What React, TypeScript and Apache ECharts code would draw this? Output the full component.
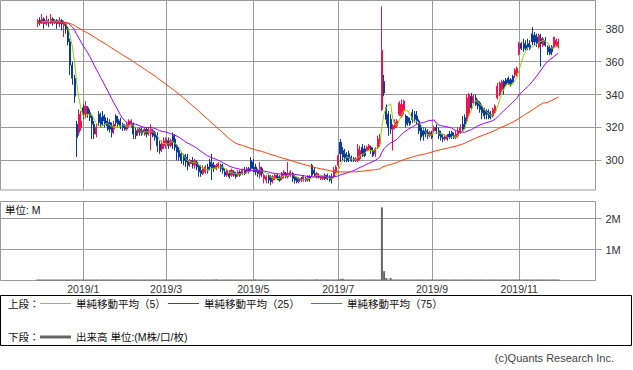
import React, { useEffect, useRef } from "react";
import * as echarts from "echarts";

// ---- data ----
// closes before the visible window (needed for the moving averages at the left edge)
const prehistoryCloses = [
  382, 384, 385, 383, 381, 383, 386, 384, 382, 383,
  385, 384, 382, 381, 383, 385, 386, 384, 383, 382,
  384, 385, 383, 381, 382, 384, 386, 385, 383, 382,
  381, 383, 384, 386, 385, 383, 382, 384, 385, 383,
  381, 382, 384, 385, 386, 384, 383, 382, 383, 385,
  384, 382, 381, 383, 385, 384, 383, 382, 384, 386,
  385, 383, 382, 383, 384, 385, 383, 382, 384, 385,
  384, 383, 382, 384,
];

const opens = [
  383, 385, 384, 386, 383, 385, 384, 386, 384, 385,
  383, 385, 382, 383, 380, 372, 358, 350, 322, 317,
  320, 332, 328, 332, 329, 327, 322, 316, 328, 326,
  327, 326, 324, 323, 321, 319, 327, 325, 324, 322,
  321, 319, 321, 322, 322, 318, 317, 319, 318, 317,
  319, 317, 316, 318, 317, 315, 310, 307, 309, 310,
  312, 309, 315, 313, 309, 306, 304, 303, 302, 300,
  298, 300, 297, 299, 297, 294, 292, 293, 296, 299,
  298, 297, 295, 296, 297, 296, 293, 291, 292, 291,
  293, 292, 291, 293, 292, 294, 293, 295, 300, 299,
  296, 294, 291, 295, 289, 288, 291, 290, 288, 289,
  291, 290, 289, 291, 292, 290, 291, 292, 290, 289,
  287, 289, 288, 289, 288, 290, 297, 294, 290, 291,
  289, 289, 291, 291, 290, 290, 290, 293, 297, 311,
  306, 304, 303, 304, 302, 301, 300, 300, 301, 308,
  307, 306, 307, 308, 306, 304, 308, 310, 331, 348,
  332, 328, 325, 319, 320, 321, 328, 327, 330, 327,
  326, 324, 329, 328, 327, 324, 320, 318, 318, 317,
  315, 316, 318, 320, 318, 316, 314, 313, 315, 316,
  317, 315, 314, 315, 317, 322, 326, 324, 328, 339,
  335, 338, 336, 335, 333, 331, 330, 329, 328, 327,
  329, 338, 340, 343, 348, 349, 350, 349, 351, 352,
  353, 365, 371, 371, 370, 371, 370, 377, 376, 375,
  369, 374, 370, 373, 369, 368, 369, 369, 370, 369,
];

const closes = [
  385, 384, 386, 383, 385, 384, 386, 384, 385, 383,
  385, 383, 384, 380, 372, 358, 350, 339, 314, 328,
  324, 328, 333, 328, 326, 322, 316, 320, 323, 322,
  324, 322, 321, 319, 317, 322, 323, 322, 321, 320,
  319, 322, 324, 324, 316, 315, 319, 317, 316, 319,
  316, 318, 319, 315, 314, 309, 306, 310, 312, 313,
  309, 312, 311, 308, 305, 302, 300, 300, 299, 297,
  300, 298, 300, 296, 293, 292, 295, 296, 294, 296,
  295, 295, 297, 298, 295, 294, 291, 294, 290, 294,
  291, 290, 293, 291, 294, 292, 295, 293, 295, 295,
  293, 292, 296, 292, 291, 290, 288, 287, 290, 291,
  289, 288, 292, 293, 290, 292, 293, 289, 288, 287,
  289, 288, 290, 288, 290, 289, 291, 292, 292, 290,
  290, 290, 289, 289, 288, 289, 294, 296, 303, 304,
  302, 301, 300, 301, 300, 300, 301, 307, 306, 304,
  303, 308, 309, 306, 303, 307, 313, 314, 367, 341,
  325, 320, 319, 321, 323, 324, 335, 334, 336, 322,
  323, 322, 325, 325, 324, 318, 314, 315, 316, 315,
  317, 314, 320, 318, 315, 314, 313, 315, 313, 314,
  315, 314, 316, 318, 320, 319, 322, 338, 340, 332,
  339, 334, 333, 331, 329, 327, 328, 326, 327, 331,
  333, 345, 347, 348, 344, 346, 347, 346, 348, 355,
  356, 371, 368, 368, 368, 369, 368, 372, 372, 371,
  376, 371, 374, 370, 366, 365, 366, 375, 373, 372,
];

const lows = [
  381, 382, 383, 380, 382, 381, 383, 382, 383, 380,
  381, 379, 375, 377, 370, 352, 346, 335, 302, 315,
  318, 325, 326, 326, 324, 313, 313, 314, 321, 320,
  321, 320, 318, 317, 314, 316, 321, 320, 319, 318,
  318, 318, 320, 320, 313, 313, 315, 315, 315, 315,
  314, 315, 306, 314, 312, 305, 304, 305, 307, 307,
  307, 308, 307, 306, 300, 300, 298, 297, 296, 294,
  296, 295, 295, 294, 290, 290, 291, 292, 292, 294,
  288, 293, 294, 295, 293, 292, 290, 290, 289, 290,
  290, 289, 290, 290, 291, 291, 292, 292, 294, 293,
  291, 290, 289, 290, 286, 286, 286, 285, 286, 288,
  288, 287, 288, 289, 289, 289, 290, 287, 286, 286,
  286, 287, 287, 287, 287, 287, 290, 290, 289, 289,
  288, 288, 288, 288, 287, 286, 289, 292, 296, 299,
  300, 299, 299, 299, 299, 299, 299, 299, 300, 302,
  302, 306, 306, 304, 302, 302, 307, 308, 330, 339,
  322, 315, 316, 306, 319, 320, 327, 326, 328, 320,
  321, 321, 323, 323, 322, 316, 312, 312, 314, 313,
  314, 313, 317, 316, 313, 312, 311, 312, 312, 313,
  313, 313, 313, 314, 316, 318, 319, 323, 327, 331,
  334, 333, 331, 329, 325, 325, 325, 325, 325, 326,
  328, 337, 339, 342, 340, 345, 346, 345, 347, 350,
  351, 364, 367, 366, 367, 367, 367, 370, 370, 369,
  368, 357, 369, 369, 364, 364, 364, 368, 369, 368,
];

const highs = [
  386, 387, 389, 387, 388, 386, 389, 387, 386, 386,
  387, 386, 385, 384, 381, 374, 360, 352, 324, 331,
  330, 334, 336, 333, 331, 328, 324, 322, 330, 329,
  330, 328, 326, 325, 323, 324, 328, 327, 326, 323,
  322, 323, 325, 325, 323, 320, 320, 320, 320, 320,
  320, 320, 322, 319, 318, 317, 312, 312, 314, 314,
  314, 313, 317, 316, 310, 308, 305, 304, 304, 304,
  301, 302, 301, 300, 298, 297, 297, 297, 298, 301,
  304, 299, 298, 299, 298, 298, 295, 295, 294, 295,
  294, 293, 294, 294, 295, 296, 296, 296, 302, 301,
  298, 295, 299, 296, 292, 291, 292, 291, 291, 292,
  292, 291, 293, 294, 293, 299, 294, 293, 291, 290,
  290, 290, 291, 290, 291, 291, 298, 296, 293, 292,
  291, 291, 292, 292, 291, 292, 296, 297, 304, 313,
  308, 307, 305, 306, 303, 302, 302, 310, 309, 310,
  309, 309, 310, 309, 308, 308, 315, 316, 393.5, 352,
  334, 330, 328, 322, 325, 325, 336, 337, 337, 328,
  327, 326, 331, 330, 330, 325, 322, 320, 320, 319,
  318, 318, 321, 322, 320, 318, 316, 316, 316, 318,
  318, 317, 318, 320, 322, 327, 328, 340, 341, 341,
  340, 340, 337, 336, 334, 332, 331, 331, 330, 332,
  334, 347, 348, 349, 349, 350, 351, 350, 352, 356,
  357, 372, 372, 374, 373, 374, 373, 381, 378, 377,
  377, 377, 375, 375, 370, 370, 370, 375, 374, 374,
];

// volume, in millions
const volumes = [
  0.02, 0.01, 0.02, 0.01, 0.01, 0.02, 0.01, 0.01, 0.02, 0.01, 0.01, 0.01, 0.02, 0.02, 0.02, 0.03, 0.02, 0.02, 0.03, 0.02,
  0.02, 0.01, 0.01, 0.02, 0.01, 0.01, 0.02, 0.01, 0.01, 0.01, 0.02, 0.01, 0.01, 0.01, 0.02, 0.01, 0.01, 0.01, 0.01, 0.02,
  0.01, 0.01, 0.01, 0.02, 0.01, 0.01, 0.01, 0.01, 0.02, 0.01, 0.01, 0.01, 0.02, 0.01, 0.01, 0.02, 0.01, 0.01, 0.01, 0.01,
  0.01, 0.01, 0.02, 0.01, 0.01, 0.02, 0.01, 0.01, 0.01, 0.02, 0.01, 0.01, 0.01, 0.01, 0.02, 0.01, 0.01, 0.01, 0.02, 0.01,
  0.01, 0.02, 0.04, 0.01, 0.01, 0.01, 0.01, 0.02, 0.01, 0.01, 0.01, 0.01, 0.01, 0.02, 0.01, 0.01, 0.01, 0.01, 0.02, 0.02,
  0.04, 0.01, 0.02, 0.01, 0.01, 0.01, 0.01, 0.01, 0.02, 0.01, 0.01, 0.01, 0.01, 0.01, 0.02, 0.01, 0.01, 0.01, 0.01, 0.01,
  0.01, 0.01, 0.01, 0.01, 0.01, 0.01, 0.02, 0.02, 0.04, 0.01, 0.01, 0.01, 0.01, 0.01, 0.01, 0.01, 0.02, 0.02, 0.03, 0.05,
  0.06, 0.02, 0.02, 0.01, 0.01, 0.01, 0.01, 0.02, 0.02, 0.01, 0.01, 0.01, 0.01, 0.01, 0.01, 0.01, 0.02, 0.02, 2.36, 0.30,
  0.08, 0.03, 0.08, 0.03, 0.02, 0.02, 0.03, 0.02, 0.02, 0.02, 0.01, 0.01, 0.02, 0.01, 0.01, 0.02, 0.01, 0.01, 0.01, 0.01,
  0.01, 0.01, 0.01, 0.01, 0.01, 0.01, 0.01, 0.01, 0.01, 0.01, 0.01, 0.01, 0.01, 0.01, 0.01, 0.02, 0.02, 0.03, 0.03, 0.02,
  0.02, 0.01, 0.01, 0.01, 0.01, 0.01, 0.01, 0.01, 0.01, 0.01, 0.01, 0.02, 0.02, 0.02, 0.03, 0.01, 0.01, 0.01, 0.01, 0.01,
  0.02, 0.02, 0.02, 0.03, 0.02, 0.01, 0.01, 0.02, 0.03, 0.02, 0.01, 0.02, 0.01, 0.01, 0.01, 0.01, 0.01, 0.01, 0.01, 0.01,
];

const priceTicks = [300, 320, 340, 360, 380];
const volumeTicks = [1, 2];
const monthTickLabels = ["2019/1", "2019/3", "2019/5", "2019/7", "2019/9", "2019/11"];
const firstTradingDay = { year: 2018, month: 11, day: 29 };
const marketHolidays = [
  "2018-12-24", "2018-12-31", "2019-01-01", "2019-01-02", "2019-01-03", "2019-01-14",
  "2019-02-11", "2019-03-21", "2019-04-29", "2019-04-30", "2019-05-01", "2019-05-02",
  "2019-05-03", "2019-05-06", "2019-07-15", "2019-08-12", "2019-09-16", "2019-09-23",
  "2019-10-14", "2019-10-22", "2019-11-04",
];
const maPeriods = [5, 25, 75];

// ---- styles / layout ----
const UP = "#f0134a";
const DOWN = "#0a3a9e";
const MA_COLORS = ["#99cc00", "#9a00ff", "#ff3a00"];
const GRID_COLOR = "#9a9a9a";
const FONT = '"Liberation Sans", "Noto Sans CJK JP", sans-serif';
const PAD_LEFT = 17;
const PAD_RIGHT = 17;

function pad2(n: number) {
  return n < 10 ? "0" + n : "" + n;
}

function buildTradingDates(count: number) {
  const hol = new Set(marketHolidays);
  const out: { y: number; m: number; d: number }[] = [];
  const dt = new Date(Date.UTC(firstTradingDay.year, firstTradingDay.month - 1, firstTradingDay.day));
  while (out.length < count) {
    const wd = dt.getUTCDay();
    const y = dt.getUTCFullYear();
    const m = dt.getUTCMonth() + 1;
    const d = dt.getUTCDate();
    const key = `${y}-${pad2(m)}-${pad2(d)}`;
    if (wd !== 0 && wd !== 6 && !hol.has(key)) out.push({ y, m, d });
    dt.setUTCDate(dt.getUTCDate() + 1);
  }
  return out;
}

function movingAverage(period: number) {
  const all = prehistoryCloses.concat(closes);
  const off = prehistoryCloses.length;
  return closes.map((_, i) => {
    let s = 0;
    for (let k = 0; k < period; k++) s += all[off + i - k];
    return +(s / period).toFixed(2);
  });
}

export default function App() {
  const ref = useRef<HTMLDivElement>(null);

  useEffect(() => {
    if (!ref.current) return;
    const chart = echarts.init(ref.current, undefined, { renderer: "svg" });

    const dates = buildTradingDates(closes.length);
    const cats: string[] = [];
    for (let i = 0; i < PAD_LEFT; i++) cats.push("padL" + i);
    dates.forEach((d) => cats.push(`${d.y}/${d.m}/${d.d}`));
    for (let i = 0; i < PAD_RIGHT; i++) cats.push("padR" + i);

    const tickLabelByIndex: Record<number, string> = {};
    monthTickLabels.forEach((lab) => {
      const [ys, ms] = lab.split("/");
      const idx = dates.findIndex((d) => d.y === +ys && d.m === +ms);
      if (idx >= 0) tickLabelByIndex[idx + PAD_LEFT] = lab;
    });
    const isTick = (i: number) => tickLabelByIndex[i] !== undefined;

    const xAxes = [0, 1].map((g) => ({
      type: "category",
      gridIndex: g,
      data: cats,
      boundaryGap: false,
      axisLine: { show: false },
      axisTick: { show: false },
      axisLabel: {
        show: g === 1,
        interval: (i: number) => isTick(i),
        formatter: (_v: string, i: number) => tickLabelByIndex[i] ?? "",
        fontSize: 10.5,
        color: "#333",
        fontFamily: FONT,
        margin: 3,
      },
      splitLine: {
        show: true,
        interval: (i: number) => isTick(i),
        lineStyle: { color: GRID_COLOR, width: 1 },
      },
    }));

    const maSeries = maPeriods.map((p, k) => ({
      type: "line",
      name: `MA${p}`,
      xAxisIndex: 0,
      yAxisIndex: 0,
      data: movingAverage(p).map((v, i) => [i + PAD_LEFT, v]),
      symbol: "none",
      lineStyle: { width: 1, color: MA_COLORS[k] },
      itemStyle: { color: MA_COLORS[k] },
      z: 3,
    }));

    const textStyle = (text: string, x: number, y: number, extra: any = {}) => ({
      type: "text",
      x,
      y,
      style: {
        text,
        fill: "#111",
        font: `10.5px ${FONT}`,
        verticalAlign: "middle",
        ...extra,
      },
    });

    const option: any = {
      animation: false,
      grid: [
        { left: 0.5, top: 0.5, width: 595, height: 189.5, show: true, borderColor: GRID_COLOR, borderWidth: 1 },
        { left: 0.5, top: 201.5, width: 595, height: 79, show: true, borderColor: GRID_COLOR, borderWidth: 1 },
      ],
      xAxis: xAxes,
      yAxis: [
        {
          type: "value",
          gridIndex: 0,
          position: "right",
          min: 282,
          max: 397.2,
          splitNumber: 5,
          axisLine: { show: false },
          axisTick: { show: true, length: 6, lineStyle: { color: GRID_COLOR }, customValues: priceTicks },
          axisLabel: {
            customValues: priceTicks,
            fontSize: 11,
            color: "#333",
            fontFamily: FONT,
            margin: 10,
          },
          splitLine: { show: true, lineStyle: { color: GRID_COLOR } },
        },
        {
          type: "value",
          gridIndex: 1,
          position: "right",
          min: 0,
          max: 2.55,
          interval: 1,
          axisLine: { show: false },
          axisTick: { show: true, length: 6, lineStyle: { color: GRID_COLOR }, customValues: volumeTicks },
          axisLabel: {
            customValues: volumeTicks,
            formatter: (v: number) => v + "M",
            fontSize: 11,
            color: "#333",
            fontFamily: FONT,
            margin: 10,
          },
          splitLine: { show: true, lineStyle: { color: GRID_COLOR } },
        },
      ],
      series: [
        {
          type: "candlestick",
          xAxisIndex: 0,
          yAxisIndex: 0,
          data: opens.map((o, i) => [i + PAD_LEFT, o, closes[i], lows[i], highs[i]]),
          encode: { x: 0, y: [1, 2, 3, 4] },
          barWidth: 1.6,
          itemStyle: { color: UP, color0: DOWN, borderColor: UP, borderColor0: DOWN, borderWidth: 1 },
          z: 2,
        },
        ...maSeries,
        {
          type: "bar",
          xAxisIndex: 1,
          yAxisIndex: 1,
          data: volumes.map((v, i) => [i + PAD_LEFT, v]),
          barWidth: 2,
          barMinHeight: 1,
          itemStyle: { color: "#666666" },
        },
      ],
      graphic: [
        textStyle("単位: M", 5, 209.5),
        {
          type: "rect",
          shape: { x: 0.5, y: 295.5, width: 631, height: 50 },
          style: { fill: "none", stroke: "#000", lineWidth: 1 },
        },
        textStyle("上段：", 8, 303.5),
        { type: "line", shape: { x1: 40, y1: 303.5, x2: 71, y2: 303.5 }, style: { stroke: MA_COLORS[0], lineWidth: 1 } },
        textStyle("単純移動平均（5）", 76, 303.5),
        { type: "line", shape: { x1: 168, y1: 303.5, x2: 199, y2: 303.5 }, style: { stroke: MA_COLORS[1], lineWidth: 1 } },
        textStyle("単純移動平均（25）", 204, 303.5),
        { type: "line", shape: { x1: 311, y1: 303.5, x2: 342, y2: 303.5 }, style: { stroke: MA_COLORS[2], lineWidth: 1 } },
        textStyle("単純移動平均（75）", 347, 303.5),
        textStyle("下段：", 8, 337),
        { type: "line", shape: { x1: 40, y1: 337, x2: 71, y2: 337 }, style: { stroke: "#666666", lineWidth: 3 } },
        textStyle("出来高 単位:(M株/口/枚)", 76, 337),
        textStyle("(c)Quants Research Inc.", 614, 358, { align: "right", fill: "#444", font: `11px ${FONT}` }),
      ],
    };

    chart.setOption(option);
    return () => chart.dispose();
  }, []);

  return (
    <div
      ref={ref}
      style={{ position: "absolute", left: 0, top: 0, width: 633, height: 370, background: "#fff" }}
    />
  );
}
